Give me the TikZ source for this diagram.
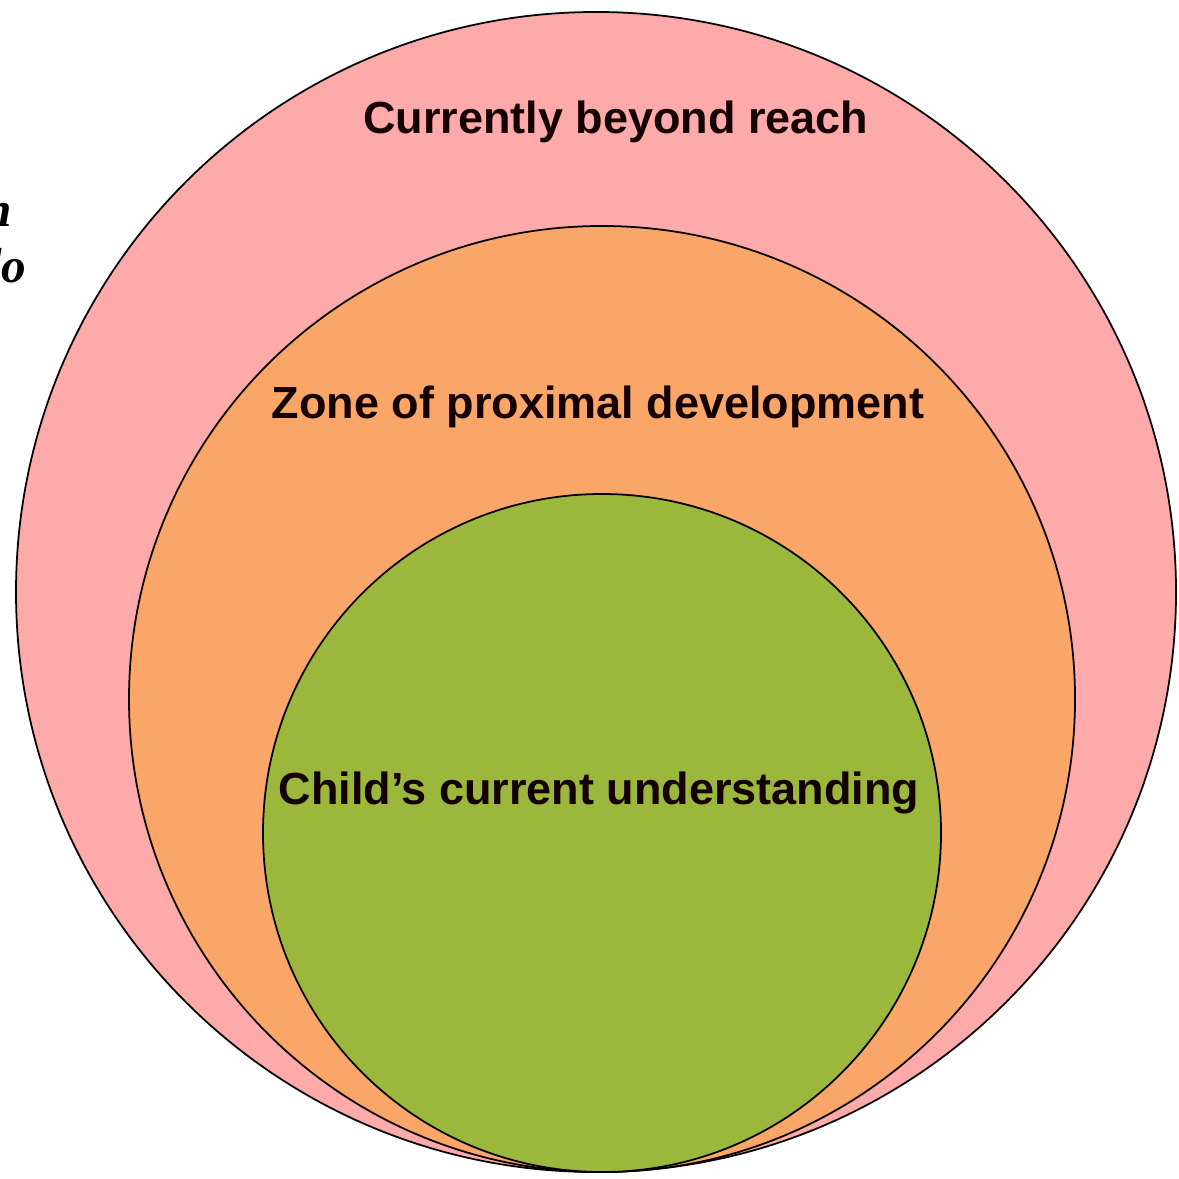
\documentclass[tikz,border=0pt]{standalone}
\usepackage{fontspec}
\setmainfont{Liberation Sans}
\newfontfamily\cutserif{Liberation Serif}
\usetikzlibrary{positioning}
\definecolor{reachpink}{RGB}{255,170,170}
\definecolor{zpdorange}{RGB}{250,166,104}
\definecolor{nowgreen}{RGB}{156,184,60}

\begin{document}
\begin{tikzpicture}[x=1cm,y=1cm]
            \useasboundingbox (0,0) rectangle (11.78,-11.79);
            \tikzset{zone/.style={circle,draw,line width=0.5pt,inner sep=0pt},
                     zonetext/.style={font=\fontsize{12.8}{15}\selectfont\bfseries,text=black!92!red}}
            \begin{scope}
            \clip (0,0) rectangle (11.78,-11.79);
            \node [zone,minimum size=11.60cm,fill=reachpink] (beyond) at (5.96,-5.92) {};
            \node [zone,minimum size=9.46cm,fill=zpdorange] (zpd) at (6.02,-6.99) {};
            \node [zone,minimum size=6.78cm,fill=nowgreen] (current) at (6.02,-8.33) {};
            \end{scope}

            \node [zonetext] (beyondlbl) at (6.16,-1.22) {Currently beyond reach};
            \node [zonetext] (zpdlbl) at (5.98,-4.07) {Zone of proximal development};
            \node [zonetext] (currentlbl) at (5.99,-7.93) {Child’s current understanding};

            \node [anchor=east,inner sep=0pt,font=\cutserif\itshape\bfseries\fontsize{14}{16}\selectfont] (cutA) at (0.13,-2.15) {n};
            \node [anchor=east,inner sep=0pt,font=\cutserif\itshape\bfseries\fontsize{14}{16}\selectfont] (cutB) at (0.27,-2.66) {lo};
        \end{tikzpicture}
\end{document}
